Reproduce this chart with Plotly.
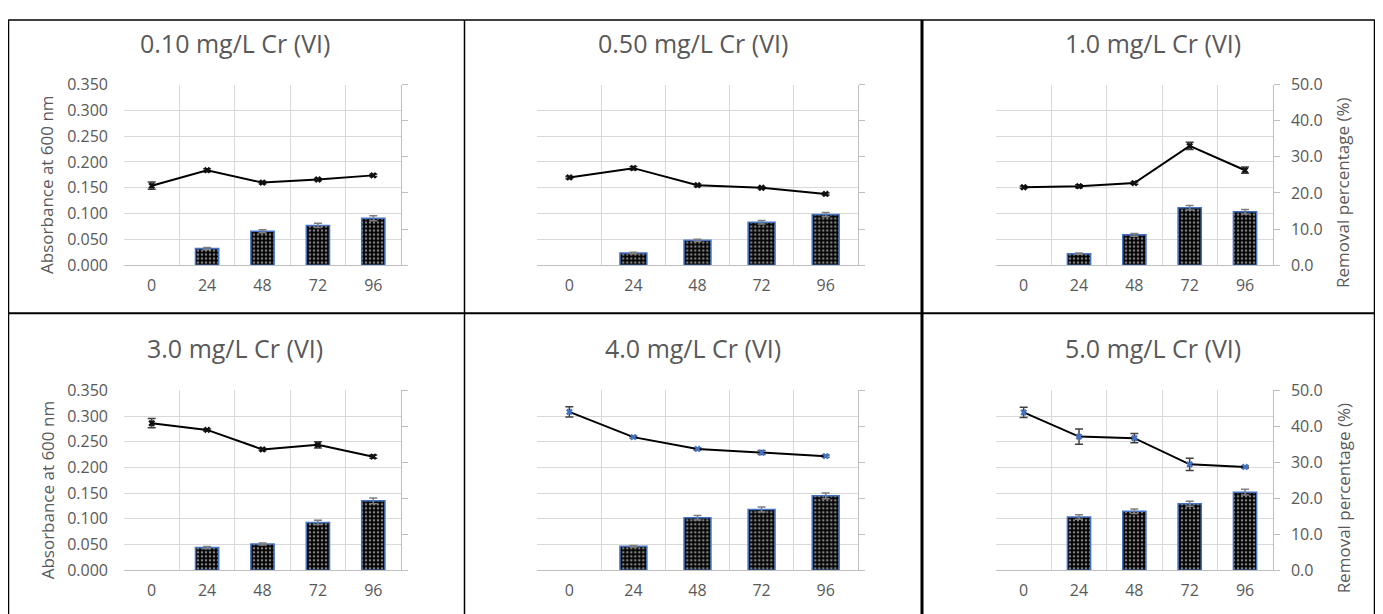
import plotly.graph_objects as go

# Figure size and how figure pixels land in the photographed page
OFFX = 8            # body margin
OFFY = 18.7         # screen y of figure top
SY = 0.961          # vertical screen scale observed
FW, FH = 1383 - 16, 619

hours = ["0", "24", "48", "72", "96"]
panel_titles = ["0.10 mg/L Cr (VI)", "0.50 mg/L Cr (VI)", "1.0 mg/L Cr (VI)",
                "3.0 mg/L Cr (VI)", "4.0 mg/L Cr (VI)", "5.0 mg/L Cr (VI)"]

# Absorbance at 600 nm (line, left axis)
abs_010 = [0.154, 0.184, 0.160, 0.166, 0.174]
abs_050 = [0.170, 0.188, 0.155, 0.150, 0.138]
abs_100 = [0.151, 0.153, 0.159, 0.231, 0.184]
abs_300 = [0.286, 0.273, 0.235, 0.244, 0.221]
abs_400 = [0.308, 0.259, 0.236, 0.229, 0.222]
abs_500 = [0.307, 0.260, 0.257, 0.206, 0.201]

abs_err_010 = [0.007, 0.003, 0.002, 0.002, 0.002]
abs_err_050 = [0.002, 0.003, 0.002, 0.002, 0.002]
abs_err_100 = [0.002, 0.003, 0.002, 0.007, 0.006]
abs_err_300 = [0.009, 0.002, 0.002, 0.006, 0.003]
abs_err_400 = [0.010, 0.002, 0.002, 0.004, 0.002]
abs_err_500 = [0.010, 0.015, 0.009, 0.012, 0.002]

# Removal percentage (bars, right axis); no bar at 0 h
rem_010 = [None, 4.6, 9.4, 11.0, 13.0]
rem_050 = [None, 3.4, 6.9, 11.9, 14.0]
rem_100 = [None, 3.2, 8.4, 15.9, 14.8]
rem_300 = [None, 6.3, 7.3, 13.3, 19.3]
rem_400 = [None, 6.7, 14.6, 16.9, 20.7]
rem_500 = [None, 14.8, 16.4, 18.5, 21.7]

rem_err_010 = [None, 0.3, 0.4, 0.6, 0.7]
rem_err_050 = [None, 0.2, 0.3, 0.5, 0.6]
rem_err_100 = [None, 0.2, 0.4, 0.6, 0.6]
rem_err_300 = [None, 0.3, 0.3, 0.6, 0.8]
rem_err_400 = [None, 0.2, 0.6, 0.7, 0.8]
rem_err_500 = [None, 0.6, 0.6, 0.7, 0.8]

abs_all = [abs_010, abs_050, abs_100, abs_300, abs_400, abs_500]
abs_err_all = [abs_err_010, abs_err_050, abs_err_100, abs_err_300, abs_err_400, abs_err_500]
rem_all = [rem_010, rem_050, rem_100, rem_300, rem_400, rem_500]
rem_err_all = [rem_err_010, rem_err_050, rem_err_100, rem_err_300, rem_err_400, rem_err_500]
marker_colors = ["#111111", "#111111", "#111111", "#111111", "#4472C4", "#4472C4"]

FONT = "Open Sans"
TXT = "#595959"
GRID = "#d9d9d9"
AXL = "#bfbfbf"

# screen-pixel geometry of the reference
cols = [(124, 401), (537.3, 857.7), (996, 1272.7)]
rows = [(84, 264), (388.7, 568)]
title_x = [235, 692.5, 1152.5]
title_y = [43, 347]


def px(x):
    return (x - OFFX) / FW


def py(y):
    return 1 - ((y - OFFY) / SY) / FH


fig = go.Figure()
layout = dict(
    width=FW, height=FH, margin=dict(l=0, r=0, t=0, b=0),
    paper_bgcolor="white", plot_bgcolor="white", showlegend=False,
    font=dict(family=FONT, color=TXT, size=16),
    bargap=0.58,
)
annotations = []
shapes = []

for i in range(6):
    r, c = divmod(i, 3)
    n = i + 1
    xs = "" if n == 1 else str(n)
    ys2 = str(n + 6)
    (L, R), (T, B) = cols[c], rows[r]

    fig.add_trace(go.Bar(
        x=hours, y=rem_all[i], xaxis="x" + xs, yaxis="y" + ys2,
        marker=dict(color="black", line=dict(color="#4472C4", width=1.5),
                    pattern=dict(shape=".", fgcolor="white", bgcolor="black",
                                 size=4, solidity=0.35)),
        error_y=dict(type="data", array=rem_err_all[i], color="#7f7f7f",
                     thickness=1.5, width=4),
        name="Removal percentage (%)",
    ))
    fig.add_trace(go.Scatter(
        x=hours, y=abs_all[i], xaxis="x" + xs, yaxis="y" + xs,
        mode="lines+markers",
        line=dict(color="black", width=2),
        marker=dict(symbol="x", size=6, color=marker_colors[i]),
        error_y=dict(type="data", array=abs_err_all[i], color="#404040",
                     thickness=1.5, width=4),
        name="Absorbance at 600 nm",
    ))

    layout["xaxis" + xs] = dict(
        domain=[px(L), px(R)], anchor="y" + xs, type="category",
        categoryorder="array", categoryarray=hours,
        range=[-0.5, 4.5], tickson="boundaries", ticks="",
        showgrid=True, gridcolor=GRID, gridwidth=1,
        showline=True, linecolor=AXL, linewidth=1,
        tickfont=dict(size=16, color=TXT, family=FONT),
        ticklabelstandoff=6, zeroline=False,
    )
    layout["yaxis" + xs] = dict(
        domain=[py(B), py(T)], anchor="x" + xs, range=[0, 0.35],
        dtick=0.05, tickformat=".3f", showgrid=True, gridcolor=GRID,
        gridwidth=1, showline=False, zeroline=False, ticks="",
        showticklabels=(c == 0),
        tickfont=dict(size=16, color=TXT, family=FONT),
        ticklabelstandoff=15,
    )
    layout["yaxis" + ys2] = dict(
        overlaying="y" + xs, anchor="x" + xs, side="right", range=[0, 50],
        dtick=10, tickformat=".1f", showgrid=False, zeroline=False,
        showline=True, linecolor=AXL, linewidth=1,
        ticks="outside", ticklen=6, tickcolor=AXL,
        showticklabels=(c == 2),
        tickfont=dict(size=16, color=TXT, family=FONT),
        ticklabelstandoff=8,
    )

    annotations.append(dict(
        text=panel_titles[i], xref="paper", yref="paper",
        x=px(title_x[c]), y=py(title_y[r]), xanchor="center", yanchor="middle",
        showarrow=False, font=dict(size=25, color=TXT, family=FONT),
    ))
    if c == 0:
        annotations.append(dict(
            text="Absorbance at 600 nm", xref="paper", yref="paper",
            x=px(47), y=py((T + B) / 2 + 10), textangle=-90, showarrow=False,
            xanchor="center", yanchor="middle",
            font=dict(size=17, color=TXT, family=FONT),
        ))
    if c == 2:
        annotations.append(dict(
            text="Removal percentage (%)", xref="paper", yref="paper",
            x=px(1343), y=py((T + B) / 2 + 18), textangle=-90, showarrow=False,
            xanchor="center", yanchor="middle",
            font=dict(size=17, color=TXT, family=FONT),
        ))

# panel borders
TOPF = 1.0 - 1.0 / FH     # just inside the top of the figure
border = dict(type="line", xref="paper", yref="paper",
              line=dict(color="black", width=1.5))
shapes.append({**border, "x0": px(8), "x1": px(1380), "y0": TOPF, "y1": TOPF})
shapes.append({**border, "x0": px(8.5), "x1": px(8.5), "y0": TOPF, "y1": -0.05})
shapes.append({**border, "x0": px(1374.5), "x1": px(1374.5), "y0": TOPF, "y1": -0.05})
shapes.append({**border, "x0": px(464.5), "x1": px(464.5), "y0": TOPF, "y1": -0.05})
shapes.append({**border, "x0": px(922), "x1": px(922), "y0": TOPF, "y1": -0.05,
               "line": dict(color="black", width=3)})
shapes.append({**border, "x0": px(7), "x1": px(1380), "y0": py(312), "y1": py(312),
               "line": dict(color="black", width=2)})

layout["annotations"] = annotations
layout["shapes"] = shapes
fig.update_layout(**layout)

fig.write_html("out.html")
